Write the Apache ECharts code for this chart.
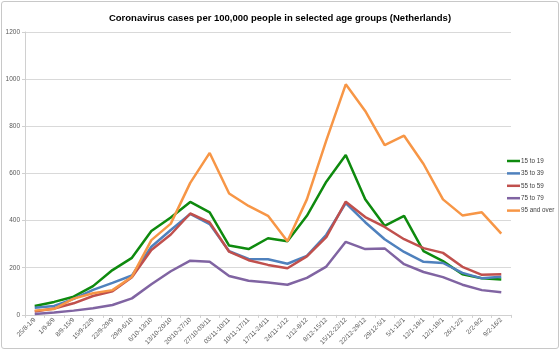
<!DOCTYPE html>
<html>
<head>
<meta charset="utf-8">
<script src="https://cdn.jsdelivr.net/npm/echarts@6/dist/echarts.min.js"></script>
<style>
  html, body { margin: 0; padding: 0; background: #fff; }
  #chart { position: absolute; left: 1px; top: 1px; width: 556px; height: 346px; border: 1px solid #c8c8c8; border-radius: 3px; }
</style>
</head>
<body>
<div id="chart"></div>
<script>
var weeks = ['25/8-1/9', '1/9-8/9', '8/9-15/9', '15/9-22/9', '22/9-29/9', '29/9-6/10', '6/10-13/10',
  '13/10-20/10', '20/10-27/10', '27/10-03/11', '03/11-10/11', '10/11-17/11', '17/11-24/11',
  '24/11-1/12', '1/12-8/12', '8/12-15/12', '15/12-22/12', '22/12-29/12', '29/12-5/1', '5/1-12/1',
  '12/1-19/1', '12/1-19/1', '26/1-2/2', '2/2-9/2', '9/2-16/2'];

var age15to19 = [38, 55, 77, 122, 190, 242, 356, 413, 479, 435, 294, 279, 325, 312, 420, 565, 678, 490, 378, 420, 270, 228, 172, 155, 150];
var age35to39 = [30, 38, 68, 106, 136, 167, 289, 360, 428, 385, 270, 237, 236, 217, 250, 340, 474, 393, 321, 267, 225, 220, 178, 155, 162];
var age55to59 = [14, 27, 49, 80, 100, 160, 275, 341, 430, 392, 268, 232, 212, 198, 248, 330, 480, 415, 373, 321, 283, 263, 204, 170, 172];
var age75to79 = [4, 10, 18, 28, 42, 70, 130, 185, 230, 225, 165, 145, 137, 128, 157, 205, 310, 279, 282, 215, 182, 160, 128, 105, 96];
var age95plus = [18, 25, 69, 92, 105, 162, 317, 387, 560, 687, 515, 462, 420, 312, 490, 740, 978, 865, 720, 760, 640, 490, 422, 435, 345];

var yTicks = [0, 200, 400, 600, 800, 1000, 1200];

var chart = echarts.init(document.getElementById('chart'));

function line(name, data, color) {
  return {
    name: name,
    type: 'line',
    data: data,
    symbol: 'none',
    lineStyle: { width: 2.5, color: color },
    itemStyle: { color: color }
  };
}

chart.setOption({
  animation: false,
  title: {
    text: 'Coronavirus cases per 100,000 people in selected age groups (Netherlands)',
    left: 'center',
    top: 6,
    textStyle: { fontFamily: 'Liberation Sans', fontSize: 9.5, fontWeight: 'bold', color: '#000' }
  },
  legend: {
    orient: 'vertical',
    left: 505,
    top: 154,
    padding: 0,
    icon: 'rect',
    itemWidth: 13,
    itemHeight: 2.5,
    itemGap: 2.4,
    textStyle: { fontFamily: 'Liberation Sans', fontSize: 6.3, color: '#404040', lineHeight: 10, padding: [0, 0, 0, -4] },
    data: ['15 to 19', '35 to 39', '55 to 59', '75 to 79', '95 and over']
  },
  grid: { left: 23, right: 47, top: 30, bottom: 33 },
  xAxis: {
    type: 'category',
    data: weeks,
    boundaryGap: true,
    axisLine: { lineStyle: { color: '#d0d0d0', width: 1 } },
    axisTick: { show: true, length: 3, lineStyle: { color: '#d0d0d0' } },
    axisLabel: { rotate: 45, interval: 0, fontFamily: 'Liberation Sans', fontSize: 6.5, color: '#595959', margin: 4 }
  },
  yAxis: {
    type: 'value',
    min: yTicks[0],
    max: yTicks[yTicks.length - 1],
    interval: 200,
    axisLine: { show: true, lineStyle: { color: '#d0d0d0' } },
    axisTick: { show: true, length: 3, lineStyle: { color: '#d0d0d0' } },
    splitLine: { lineStyle: { color: '#d9d9d9', width: 1 } },
    axisLabel: {
      fontFamily: 'Liberation Sans', fontSize: 6.5, color: '#595959', margin: 5,
      formatter: function (v) { return String(v); }
    }
  },
  series: [
    line('15 to 19', age15to19, '#0e8a0e'),
    line('35 to 39', age35to39, '#4f81bd'),
    line('55 to 59', age55to59, '#c0504d'),
    line('75 to 79', age75to79, '#8064a2'),
    line('95 and over', age95plus, '#f79646')
  ]
});
</script>
</body>
</html>
